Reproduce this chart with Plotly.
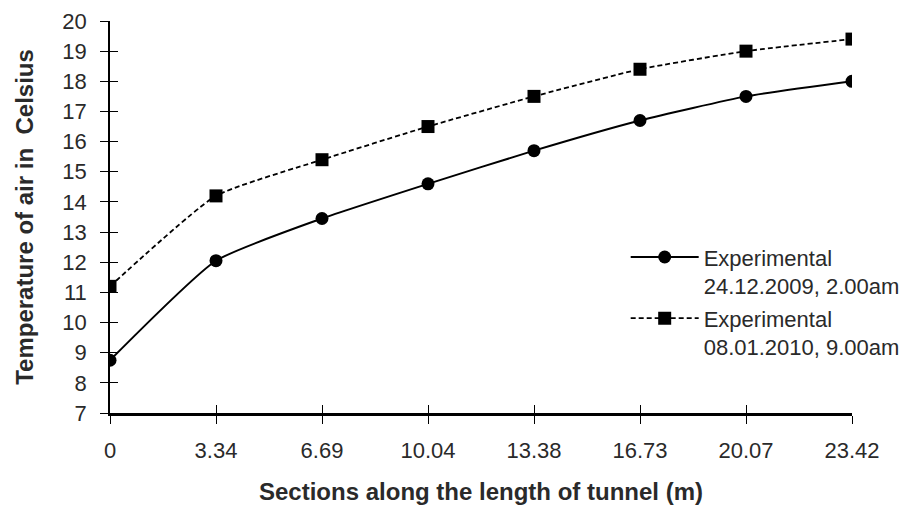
import plotly.graph_objects as go

sections = ["0", "3.34", "6.69", "10.04", "13.38", "16.73", "20.07", "23.42"]
exp_2009 = [8.75, 12.05, 13.45, 14.6, 15.7, 16.7, 17.5, 18.0]
exp_2010 = [11.2, 14.2, 15.4, 16.5, 17.5, 18.4, 19.0, 19.4]
y_ticks = list(range(7, 21))

idx = list(range(len(sections)))
font = "Liberation Sans, Arial, sans-serif"
txt = "#2a2a2a"

fig = go.Figure()
fig.add_trace(go.Scatter(
    x=idx, y=exp_2009, mode="lines+markers",
    name="Experimental<br>24.12.2009, 2.00am", legendgroup="a",
    line=dict(color="black", width=2, shape="spline", smoothing=0.5),
    marker=dict(symbol="circle", size=13, color="black"),
))
fig.add_trace(go.Scatter(
    x=idx, y=exp_2010, mode="lines+markers",
    name="Experimental<br>08.01.2010, 9.00am", legendgroup="b",
    line=dict(color="black", width=1.8, dash="5px,3px", shape="spline", smoothing=0.5),
    marker=dict(symbol="square", size=13, color="black"),
))
# helper invisible trace so ticks cross the axis lines
fig.add_trace(go.Scatter(x=idx, y=exp_2009, xaxis="x2", yaxis="y2",
                         mode="markers", marker=dict(opacity=0), showlegend=False,
                         hoverinfo="skip"))

fig.update_layout(
    width=904, height=502,
    margin=dict(l=102, r=60, t=13, b=97, autoexpand=False),
    paper_bgcolor="white", plot_bgcolor="white",
    font=dict(family=font, color=txt, size=22),
    xaxis=dict(
        range=[0, 7], tickvals=idx, ticktext=sections, automargin=False,
        showgrid=False, zeroline=False, showline=True, linecolor="black", linewidth=2.5,
        ticks="outside", ticklen=8, tickwidth=1.3, tickcolor="black",
        ticklabelstandoff=8, tickfont=dict(size=22, color=txt),
        title=dict(text="<b>Sections along the length of tunnel (m)</b>",
                   font=dict(size=24, color=txt), standoff=22),
    ),
    yaxis=dict(
        range=[7, 20], tickvals=y_ticks, automargin=False,
        showgrid=False, zeroline=False, showline=True, linecolor="black", linewidth=1.5,
        ticks="outside", ticklen=8, tickwidth=1.3, tickcolor="black",
        ticklabelstandoff=9, tickfont=dict(size=22, color=txt),
        title=dict(text="<b>Temperature of air in  Celsius</b>",
                   font=dict(size=24, color=txt), standoff=22),
    ),
    xaxis2=dict(range=[0, 7], overlaying="x", tickvals=idx, ticks="inside",
                ticklen=8, tickwidth=1.3, tickcolor="black", showticklabels=False,
                showgrid=False, zeroline=False, showline=False, anchor="y2",
                automargin=False),
    yaxis2=dict(range=[7, 20], overlaying="y", tickvals=y_ticks, ticks="inside",
                ticklen=8, tickwidth=1.3, tickcolor="black", showticklabels=False,
                showgrid=False, zeroline=False, showline=False, anchor="x2", side="left",
                automargin=False),
    legend=dict(x=0.695, y=0.451, xanchor="left", yanchor="top", valign="top",
                bgcolor="rgba(0,0,0,0)", font=dict(size=22, color=txt),
                traceorder="grouped", tracegroupgap=1, itemwidth=68),
    showlegend=True,
)

fig.write_html("out.html")
